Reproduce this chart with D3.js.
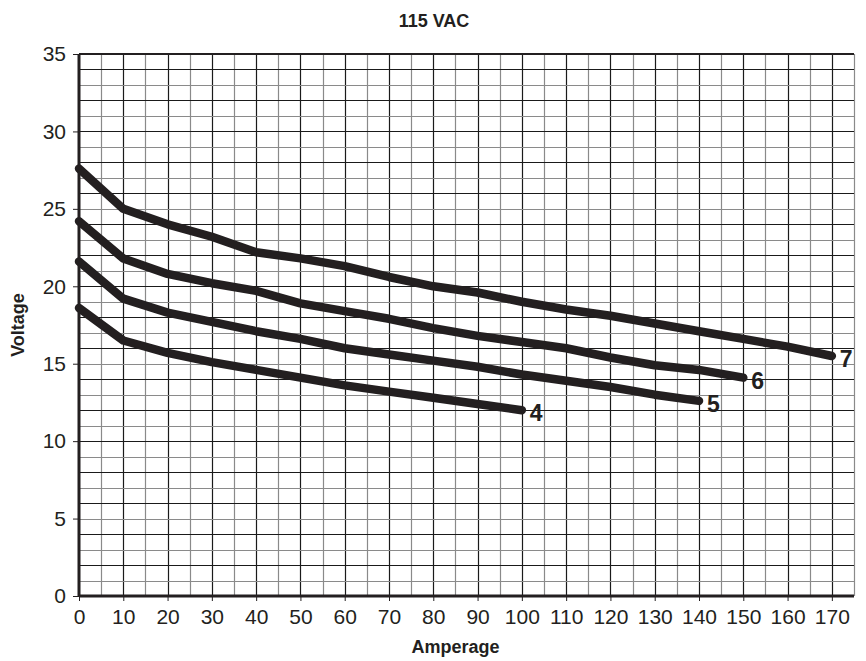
<!doctype html>
<html lang="en">
<head>
<meta charset="utf-8">
<style>
html, body { margin: 0; padding: 0; background: #fff; }
svg { display: block; font-family: "Liberation Sans", Arial, sans-serif; }
</style>
</head>
<body>
<svg id="chart" width="866" height="661"></svg>
<script src="https://cdn.jsdelivr.net/npm/d3@7/dist/d3.min.js"></script>
<script>
// amperage steps, one per reading
const amps = [0, 10, 20, 30, 40, 50, 60, 70, 80, 90, 100, 110, 120, 130, 140, 150, 160, 170];
const xTicks = [0, 10, 20, 30, 40, 50, 60, 70, 80, 90, 100, 110, 120, 130, 140, 150, 160, 170];
const yTicks = [0, 5, 10, 15, 20, 25, 30, 35];

// voltage per curve
const curve4 = [18.6, 16.5, 15.7, 15.1, 14.6, 14.1, 13.6, 13.2, 12.8, 12.4, 12.0];
const curve5 = [21.6, 19.2, 18.3, 17.7, 17.1, 16.6, 16.0, 15.6, 15.2, 14.8, 14.3, 13.9, 13.5, 13.0, 12.6];
const curve6 = [24.2, 21.8, 20.8, 20.2, 19.7, 18.9, 18.4, 17.9, 17.3, 16.8, 16.4, 16.0, 15.4, 14.9, 14.6, 14.1];
const curve7 = [27.6, 25.0, 24.0, 23.2, 22.2, 21.8, 21.3, 20.6, 20.0, 19.6, 19.0, 18.5, 18.1, 17.6, 17.1, 16.6, 16.1, 15.5];
const curveNames = ['4', '5', '6', '7'];

const curves = [curve4, curve5, curve6, curve7].map((vals, i) => ({
    name: curveNames[i],
    points: vals.map((v, j) => ({ a: amps[j], v: v }))
}));

const width = 866, height = 661;
const margin = { top: 54, right: 12, bottom: 65, left: 79 };
const ink = '#231f20';

const svg = d3.select('#chart');
const x = d3.scaleLinear().domain([0, 175]).range([margin.left, width - margin.right]);
const y = d3.scaleLinear().domain([0, 35]).range([height - margin.bottom, margin.top]);

// grid
const grid = svg.append('g');
grid.selectAll('line.vx').data(d3.range(5, 176, 5)).enter()
    .append('line')
    .attr('x1', d => Math.round(x(d)) + 0.5).attr('x2', d => Math.round(x(d)) + 0.5)
    .attr('y1', y(35)).attr('y2', y(0))
    .attr('stroke', d => d % 10 === 0 ? '#1a1a1a' : '#8a8a8a')
    .attr('stroke-width', 1.2);
grid.selectAll('line.hy').data(d3.range(1, 35)).enter()
    .append('line')
    .attr('x1', x(0)).attr('x2', x(175))
    .attr('y1', d => Math.round(y(d)) + 0.5).attr('y2', d => Math.round(y(d)) + 0.5)
    .attr('stroke', d => d % 2 === 0 ? '#1a1a1a' : '#8a8a8a')
    .attr('stroke-width', 1.2);
grid.append('line')
    .attr('x1', x(0)).attr('x2', x(175))
    .attr('y1', y(35)).attr('y2', y(35))
    .attr('stroke', ink).attr('stroke-width', 2);

// axes
const xAxis = svg.append('g')
    .attr('transform', `translate(0,${y(0)})`)
    .call(d3.axisBottom(x).tickValues(xTicks).tickSize(5).tickPadding(8));
const yAxis = svg.append('g')
    .attr('transform', `translate(${x(0)},0)`)
    .call(d3.axisLeft(y).tickValues(yTicks).tickSize(6).tickPadding(7));
[xAxis, yAxis].forEach(g => {
    g.attr('font-size', null).attr('font-family', null);
    g.select('.domain').attr('stroke', ink).attr('stroke-width', 3);
    g.selectAll('.tick line').attr('stroke', ink).attr('stroke-width', 1);
    g.selectAll('.tick text').attr('font-size', 21).attr('fill', ink);
});
xAxis.select('.domain').attr('d', `M${x(0)},0H${x(175)}`);
yAxis.select('.domain').attr('d', `M0,${y(0)}V${y(35)}`);

// curves
const line = d3.line().x(d => x(d.a)).y(d => y(d.v));
svg.append('g').selectAll('path').data(curves).enter()
    .append('path')
    .attr('d', d => line(d.points))
    .attr('fill', 'none')
    .attr('stroke', ink)
    .attr('stroke-width', 8.5)
    .attr('stroke-linecap', 'round')
    .attr('stroke-linejoin', 'round');

svg.append('g').selectAll('text').data(curves).enter()
    .append('text')
    .attr('x', d => x(d.points[d.points.length - 1].a) + 8)
    .attr('y', d => y(d.points[d.points.length - 1].v) + 11)
    .attr('font-size', 23).attr('font-weight', 'bold').attr('fill', ink)
    .text(d => d.name);

// titles
svg.append('text')
    .attr('x', 434).attr('y', 27)
    .attr('text-anchor', 'middle')
    .attr('font-size', 18).attr('font-weight', 'bold').attr('fill', ink)
    .text('115 VAC');
svg.append('text')
    .attr('x', (x(0) + x(170)) / 2).attr('y', 653)
    .attr('text-anchor', 'middle')
    .attr('font-size', 18).attr('font-weight', 'bold').attr('fill', ink)
    .text('Amperage');
svg.append('text')
    .attr('transform', `translate(24,${(y(0) + y(35)) / 2}) rotate(-90)`)
    .attr('text-anchor', 'middle')
    .attr('font-size', 18).attr('font-weight', 'bold').attr('fill', ink)
    .text('Voltage');
</script>
</body>
</html>
